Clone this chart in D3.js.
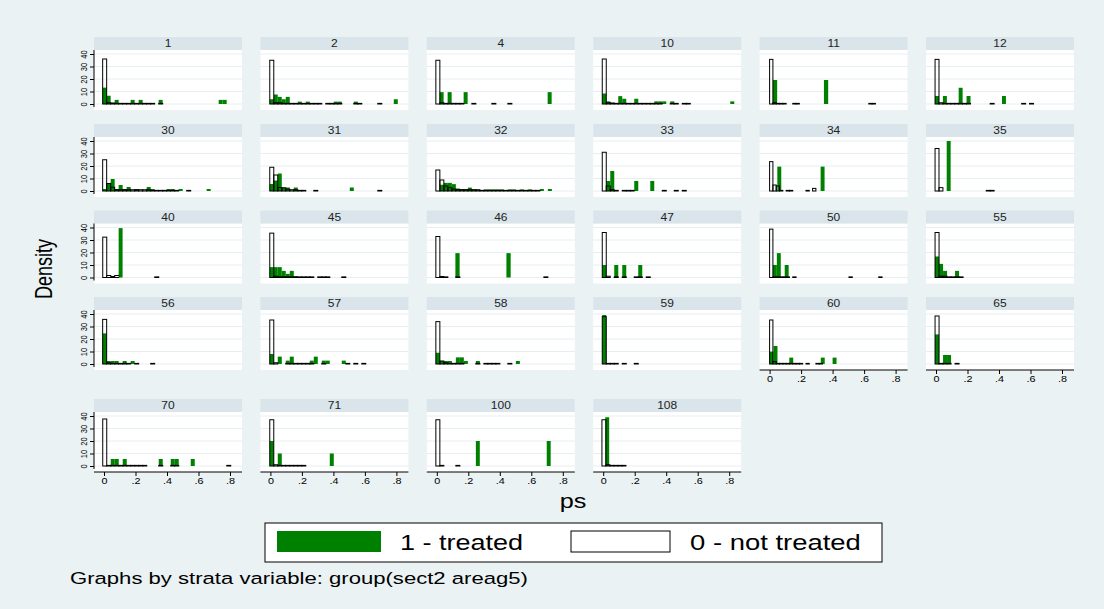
<!DOCTYPE html>
<html>
<head>
<meta charset="utf-8">
<script src="https://cdn.jsdelivr.net/npm/d3@7"></script>
<style>
  body { margin: 0; background: #eaf2f3; }
  svg { display: block; font-family: "Liberation Sans", Arial, sans-serif; }
</style>
</head>
<body>
<svg id="chart" width="1104" height="609"></svg>
<script>
// Strata shown as small multiples, in reading order (6 per row)
const strata = ["1","2","4","10","11","12","30","31","32","33","34","35",
  "40","45","46","47","50","55","56","57","58","59","60","65","70","71","100","108"];

// Histogram of ps for treated units: first bin edge, bin width, bars as [bin, density, run length]
const treatedStart = [-0.0085,-0.004,0.018,-0.006,0.021,-0.006,-0.0085,-0.004,-0.006,-0.006,0.049,0.068,
  0.093,-0.004,0.118,-0.006,0.021,-0.006,-0.0085,-0.004,-0.006,-0.006,0,-0.006,-0.008,-0.004,0.248,0.013];
const treatedWidth = [0.0254,0.0254,0.0254,0.0254,0.027,0.025,0.0254,0.0254,0.0254,0.0254,0.025,0.025,
  0.025,0.0254,0.027,0.0254,0.025,0.0254,0.0254,0.0254,0.0254,0.0254,0.025,0.0254,0.0254,0.0254,0.025,0.025];
const treatedBars = [
  [[0,13.1],[1,6.6],[3,3.3],[7,3.3],[9,3.3],[14,3.3],[29,3.3,2]],
  [[0,3.8],[1,7.6],[2,5.7],[3,3.8],[4,5.7],[7,1.9],[9,1.9],[16,1.9,2],[21,1.9],[31,3.8]],
  [[0,9.5],[2,9.5],[6,9.5],[27,9.5]],
  [[0,8.4],[1,2.1],[4,6.3],[5,4.2],[8,4.2],[13,2.1,3],[17,2.1],[32,2.1]],
  [[0,19.2],[12,19.2]],
  [[0,6.4],[2,6.4],[6,13],[8,6.4],[17,6.4]],
  [[0,1.6],[1,6.4],[2,9.6],[3,1.6],[4,4.8],[5,1.6],[6,3.2],[8,1.6],[11,3.2],[12,1.6],[16,1.6,2],[19,1.6],[26,1.6]],
  [[0,5.6],[1,8.4],[2,14],[3,2.8,2],[6,2.8],[20,2.8]],
  [[1,5],[2,6.5,2],[4,5.5],[5,2],[6,1.5,2],[8,2.7],[9,1.3],[10,1],[12,1.3,5],[18,1.3,2],[21,1.3],[23,1.3],[26,1.6],[28,1.6]],
  [[1,8],[2,16],[8,8],[12,8]],
  [[0,19.5],[11,19.5]],
  [[0,40]],
  [[0,39.5]],
  [[0,8.3,3],[3,5.3],[4,2.9],[5,5.3],[6,1]],
  [[0,19.5],[12,19.5]],
  [[0,10],[3,10],[5,10],[9,10]],
  [[0,10],[1,19.5],[3,10]],
  [[0,16.8],[1,10.9],[2,5.3],[5,5.3]],
  [[0,24.5],[1,2.4,3],[5,2.4],[7,2.4]],
  [[0,8],[2,5.9],[4,2.7],[5,5.9],[10,2.7],[11,5.9],[13,2.7,2],[18,2.7]],
  [[0,9],[1,2.4,3],[5,5.3,2],[7,2.4],[10,2.4],[20,2.4]],
  [[0,39.2]],
  [[0,9.9],[1,14.4],[5,5.1],[13,5.1],[16,5.1]],
  [[0,23.7],[2,7.2,2]],
  [[2,5.6,2],[5,5.6],[14,5.6],[17,5.6,2],[22,5.6]],
  [[0,20],[2,10],[15,10]],
  [[0,20],[18,20]],
  [[0,39]]
];

// Histogram of ps for untreated units: same layout as above
const controlStart = [-0.0085,-0.004,-0.006,-0.006,0,-0.006,-0.0085,-0.004,-0.006,-0.006,0,-0.006,
  -0.008,-0.004,-0.006,-0.006,0,-0.006,-0.0085,-0.004,-0.006,-0.006,0,-0.006,-0.008,-0.004,-0.006,-0.008];
const controlWidth = [0.0254,0.0254,0.0254,0.0254,0.021,0.025,0.0254,0.0254,0.0254,0.0254,0.021,0.025,
  0.0254,0.0254,0.0254,0.0254,0.021,0.0254,0.0254,0.0254,0.0254,0.0254,0.021,0.0254,0.0254,0.0254,0.0254,0.0254];
const controlBars = [
  [[0,36],[1,1],[2,0.8],[3,0.5,10],[14,0.5]],
  [[0,35],[1,1,2],[3,0.5,10],[14,0.5,4],[21,0.5,2],[27,0.5]],
  [[0,35],[1,1],[2,0.5,5],[9,0.5],[14,0.5],[18,0.5]],
  [[0,36],[1,1],[2,0.8],[3,0.5,12],[17,0.5,2],[20,0.5,2]],
  [[0,35.7],[1,1],[2,0.5,3],[7,0.5,2],[30,0.5,2]],
  [[0,35.7],[1,1],[2,0.5,7],[14,0.5],[22,0.5],[24,0.5]],
  [[0,25],[1,6],[2,3],[3,1,9],[12,0.5,7],[21,0.5]],
  [[0,19],[1,12.8],[2,2.8],[3,2.5],[4,1.5],[5,1,2],[7,0.5,2],[11,0.5],[27,0.5]],
  [[0,16.8],[1,8.8],[2,4],[3,2.7],[4,1.5],[5,1,6],[11,0.5,15]],
  [[0,31],[1,4],[2,1],[3,0.5],[5,0.5,3],[15,0.5],[18,0.5],[20,0.5]],
  [[0,23.5],[1,4.8],[2,4],[3,0.5],[5,0.5,2],[11,0.5],[13,2.1]],
  [[0,34],[1,2.7],[13,0.5,2]],
  [[0,32.3],[1,1.6],[2,0.8],[3,1.6],[13,0.5]],
  [[0,35.5],[1,1],[2,0.5,9],[12,0.5,3],[18,0.5]],
  [[0,32.8],[1,0.8],[2,0.5],[5,0.5],[27,0.5]],
  [[0,36],[1,1],[3,0.5],[5,0.5],[8,0.5,2],[11,0.5]],
  [[0,38.7],[1,0.5,5],[7,0.5],[24,0.5],[33,0.5]],
  [[0,36],[1,1,2],[3,0.5,4]],
  [[0,35.7],[1,1],[2,0.5,5],[8,0.5],[12,0.5]],
  [[0,35.2],[1,1],[4,0.5,7],[13,0.5],[19,0.5],[21,0.5],[23,0.5]],
  [[0,33.9],[1,2.4],[2,1],[3,0.5,4],[10,0.5],[12,0.5,4],[18,0.5]],
  [[0,37.9],[1,0.5,3],[5,0.5],[8,0.5]],
  [[0,35.2],[1,2],[2,0.5,8],[11,0.5],[14,0.5,2]],
  [[0,38.4],[1,0.5,3],[5,0.5]],
  [[0,37.6],[1,0.5,10],[14,0.5],[17,0.5,2],[31,0.5]],
  [[0,37],[1,1],[2,0.5,7]],
  [[0,37],[1,0.5],[5,0.5]],
  [[0,37],[1,1],[2,0.5,4]]
];

const xTicks = [0, 0.2, 0.4, 0.6, 0.8];
const yTicks = [0, 10, 20, 30, 40];
const legendLabels = ["1 - treated", "0 - not treated"];
const yTitle = "Density";
const xTitle = "ps";
const note = "Graphs by strata variable: group(sect2 areag5)";

// ---- layout & style ----
const W = 1104, H = 609;
const nCols = 6, colLeft = 94, colStep = 166.4, panelW = 148;
const rowBase = [104, 191, 277.5, 364, 466];
const stripH = 13, plotTop = 54, plotBottom = 6;
const SX = 1.2; // horizontal text stretch
const GREEN = "#008000";
const FONT = '"Liberation Sans", Arial, sans-serif';

const svg = d3.select("#chart");
svg.append("rect").attr("width", W).attr("height", H).attr("fill", "#eaf2f3");

const fmtX = d => d === 0 ? "0" : d3.format(".1f")(d).replace(/^0/, "");

function expand(runs) {
  const out = [];
  runs.forEach(([k, d, n = 1]) => { for (let j = 0; j < n; j++) out.push({ k: k + j, d }); });
  return out;
}

function hText(sel, x, y, str, size, anchor, sx) {
  return sel.append("text")
    .attr("transform", `translate(${x},${y}) scale(${sx || SX},1)`)
    .attr("text-anchor", anchor || "start")
    .attr("font-size", size)
    .attr("font-family", FONT)
    .attr("fill", "#000")
    .text(str);
}

strata.forEach((label, i) => {
  const r = Math.floor(i / nCols), c = i % nCols;
  const x0 = colLeft + c * colStep, base = rowBase[r];
  const x = d3.scaleLinear().domain([0, 0.8]).range([x0 + 10, x0 + 136]);
  const y = d3.scaleLinear().domain([0, 40]).range([base, base - 50]);
  const g = svg.append("g").attr("class", "panel");

  // plot region and strip
  g.append("rect").attr("x", x0).attr("y", base - plotTop)
    .attr("width", panelW).attr("height", plotTop + plotBottom).attr("fill", "#fff");
  g.append("rect").attr("x", x0).attr("y", base - plotTop - stripH)
    .attr("width", panelW).attr("height", stripH).attr("fill", "#d9e5ea");
  hText(g, x0 + panelW / 2, base - plotTop - 3, label, 10, "middle").attr("fill", "#222");

  // horizontal grid
  g.selectAll("line.grid").data(yTicks).join("line").attr("class", "grid")
    .attr("x1", x0).attr("x2", x0 + panelW)
    .attr("y1", d => y(d)).attr("y2", d => y(d))
    .attr("stroke", "#e6eef0").attr("stroke-width", 1);

  // treated bars (filled)
  const tS = treatedStart[i], tW = treatedWidth[i];
  g.selectAll("rect.treated").data(expand(treatedBars[i])).join("rect").attr("class", "treated")
    .attr("x", d => x(tS + d.k * tW))
    .attr("width", d => x(tS + (d.k + 1) * tW) - x(tS + d.k * tW))
    .attr("y", d => y(d.d))
    .attr("height", d => base - y(d.d))
    .attr("fill", GREEN);

  // untreated bars (outline only)
  const cS = controlStart[i], cW = controlWidth[i];
  g.selectAll("rect.control").data(expand(controlBars[i])).join("rect").attr("class", "control")
    .attr("x", d => x(cS + d.k * cW))
    .attr("width", d => x(cS + (d.k + 1) * cW) - x(cS + d.k * cW))
    .attr("y", d => y(d.d))
    .attr("height", d => base - y(d.d))
    .attr("fill", "none").attr("stroke", "#000").attr("stroke-width", 1);

  // y axis on the first column
  if (c === 0) {
    const ay = g.append("g").attr("transform", `translate(${x0},0)`)
      .call(d3.axisLeft(y).tickValues(yTicks).tickSize(4).tickFormat(d3.format("d")));
    ay.select(".domain").remove();
    ay.selectAll(".tick line").attr("stroke", "#000");
    ay.selectAll(".tick text")
      .attr("x", null).attr("dy", null)
      .attr("text-anchor", "middle")
      .attr("transform", "translate(-7.3,0) rotate(-90) scale(1,1.2)")
      .attr("font-size", 7.5).attr("font-family", FONT).attr("fill", "#000");
    g.append("line").attr("x1", x0).attr("x2", x0)
      .attr("y1", base - plotTop).attr("y2", base + 3).attr("stroke", "#000");
  }

  // x axis on panels with nothing below
  if (i + nCols >= strata.length) {
    const ax = g.append("g").attr("transform", `translate(0,${base + plotBottom})`)
      .call(d3.axisBottom(x).tickValues(xTicks).tickSize(4).tickFormat(fmtX));
    ax.select(".domain").remove();
    ax.selectAll(".tick line").attr("stroke", "#000");
    ax.selectAll(".tick text")
      .attr("y", null).attr("dy", null)
      .attr("transform", `translate(0,11.5) scale(${SX},1)`)
      .attr("font-size", 9).attr("font-family", FONT).attr("fill", "#000");
    g.append("line").attr("x1", x0).attr("x2", x0 + panelW)
      .attr("y1", base + plotBottom).attr("y2", base + plotBottom).attr("stroke", "#000");
  }
});

// axis titles
svg.append("text")
  .attr("transform", "translate(51.5,269) rotate(-90) scale(1,1.35)")
  .attr("text-anchor", "middle").attr("font-size", 18).attr("font-family", FONT)
  .attr("fill", "#000").text(yTitle);
hText(svg, 573, 508, xTitle, 21, "middle");

// legend
const lg = svg.append("g");
lg.append("rect").attr("x", 265).attr("y", 523).attr("width", 617).attr("height", 39)
  .attr("fill", "#fff").attr("stroke", "#000").attr("stroke-width", 1);
lg.append("rect").attr("x", 277).attr("y", 531).attr("width", 104).attr("height", 21).attr("fill", GREEN);
hText(lg, 400, 550, legendLabels[0], 22.5);
lg.append("rect").attr("x", 571).attr("y", 531).attr("width", 99).attr("height", 21)
  .attr("fill", "#fff").attr("stroke", "#000").attr("stroke-width", 1);
hText(lg, 690, 550, legendLabels[1], 22.5, "start", 1.22);

// note
hText(svg, 70, 584, note, 17, "start", 1.3);
</script>
</body>
</html>
